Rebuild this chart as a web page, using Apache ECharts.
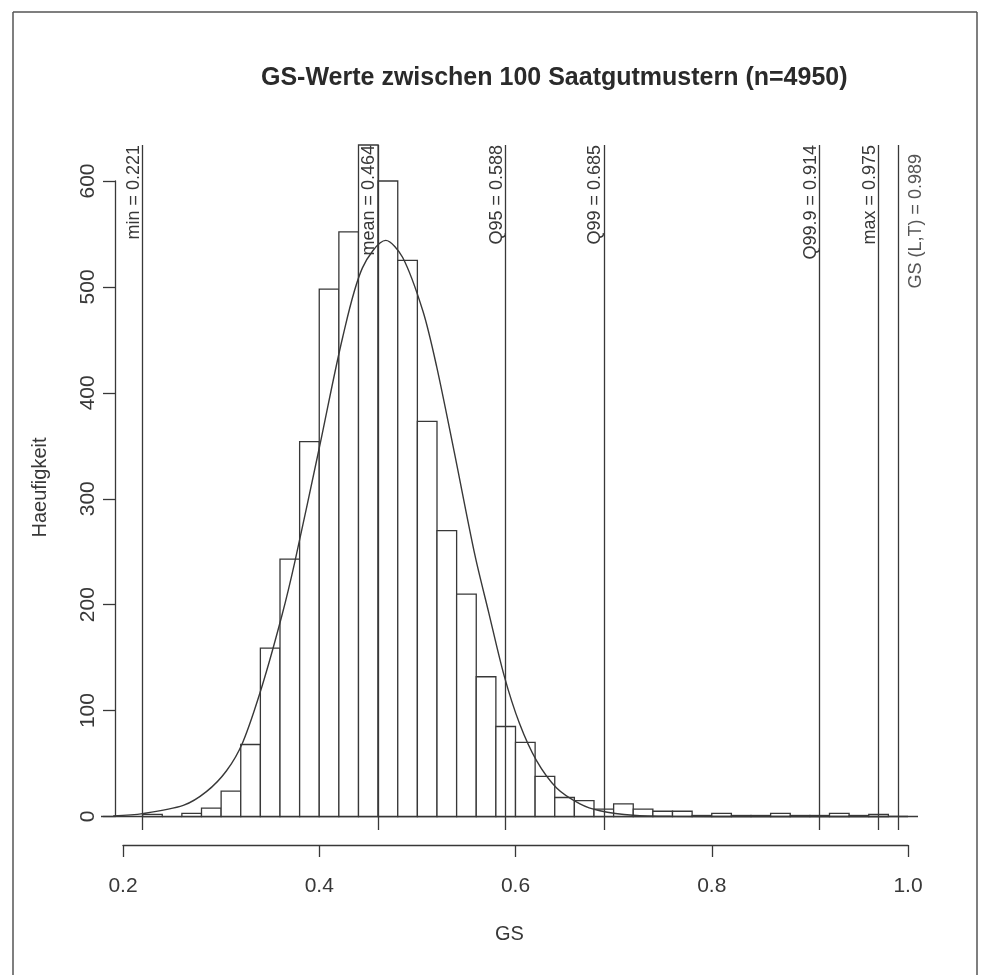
<!DOCTYPE html>
<html><head><meta charset="utf-8">
<script src="https://cdn.jsdelivr.net/npm/echarts@6/dist/echarts.min.js"></script>
<style>html,body{margin:0;padding:0;background:#fff}#c{width:983px;height:975px}</style>
</head><body><div id="c"></div>
<script>
const titleText = 'GS-Werte zwischen 100 Saatgutmustern (n=4950)';
const xName = 'GS';
const yName = 'Haeufigkeit';
const binStarts = [0.22,0.24,0.26,0.28,0.30,0.32,0.34,0.36,0.38,0.40,0.42,0.44,0.46,0.48,0.50,0.52,0.54,0.56,0.58,0.60,0.62,0.64,0.66,0.68,0.70,0.72,0.74,0.76,0.78,0.80,0.82,0.84,0.86,0.88,0.90,0.92,0.94,0.96];
const binCounts = [2,0,3,8,24,68,159,243,354,498,552,650,600,525,373,270,210,132,85,70,38,18,15,7,12,7,5,5,1,3,1,1,3,1,1,3,1,2];
const binWidth = 0.02;
const curveX = [0.19,0.22,0.2614,0.285,0.3053,0.322,0.342,0.362,0.375,0.3998,0.424,0.444,0.4678,0.4849,0.5057,0.5196,0.5374,0.5586,0.5726,0.5884,0.604,0.6213,0.6419,0.6657,0.686,0.72,0.76,0.85,1.0];
const curveY = [0.6,2.8,10.5,23.5,43,70,124,190,240,347,453,518,544,528,477,425,345,247,193,133,88,53,27,12,5.5,1.2,0.2,0,0];
const refValues = [0.221,0.464,0.588,0.685,0.914,0.975,0.989];
const refLabels = ['min = 0.221','mean = 0.464','Q95 = 0.588','Q99 = 0.685','Q99.9 = 0.914','max = 0.975','GS (L,T) = 0.989'];
const xTicks = [0.2,0.4,0.6,0.8,1.0];
const yTicks = [0,100,200,300,400,500,600];

const FONT = 'Liberation Sans, Arial, Helvetica, sans-serif';
const INK = '#383838';
const chart = echarts.init(document.getElementById('c'), null, {renderer:'canvas'});
const hidden = {show:false};

const option = {
  backgroundColor:'#fff',
  animation:false,
  title:{text:titleText, left:256, top:61,
    textStyle:{fontFamily:FONT, fontSize:25, fontWeight:'bold', color:'#2a2a2a'}},
  grid:[
    {left:101, right:65, top:145, height:685},
    {left:123, right:75, top:800, bottom:130},
    {left:115, top:181, bottom:158.5, width:700}
  ],
  xAxis:[
    {gridIndex:0, type:'value', min:0.17758, max:1.01019, name:xName, nameLocation:'middle', nameGap:94,
      nameTextStyle:{fontFamily:FONT, fontSize:20, color:INK},
      axisLine:hidden, axisTick:hidden, axisLabel:hidden, splitLine:hidden},
    {gridIndex:1, type:'value', min:xTicks[0], max:xTicks[xTicks.length-1], interval:0.2,
      axisLine:{show:true, onZero:false, lineStyle:{color:INK, width:1.3}},
      axisTick:{show:true, length:12, lineStyle:{color:INK, width:1.3}},
      axisLabel:{show:true, margin:31, fontFamily:FONT, fontSize:21, color:INK,
        formatter:v=>Number(v).toFixed(1)},
      splitLine:hidden},
    {gridIndex:2, type:'value', min:0, max:1, show:false}
  ],
  yAxis:[
    {gridIndex:0, type:'value', min:-12.7, max:634, name:yName, nameLocation:'middle', nameGap:51,
      nameTextStyle:{fontFamily:FONT, fontSize:20, color:INK},
      axisLine:hidden, axisTick:hidden, axisLabel:hidden, splitLine:hidden},
    {gridIndex:1, type:'value', min:0, max:1, show:false},
    {gridIndex:2, type:'value', min:yTicks[0], max:yTicks[yTicks.length-1], interval:100,
      axisLine:{show:true, onZero:false, lineStyle:{color:INK, width:1.3}},
      axisTick:{show:true, length:12, lineStyle:{color:INK, width:1.3}},
      axisLabel:{show:true, rotate:90, margin:16, fontFamily:FONT, fontSize:21, color:INK},
      splitLine:hidden}
  ],
  graphic:[
    {type:'line', shape:{x1:13, y1:12, x2:13, y2:975}, style:{stroke:'#555', lineWidth:1.5}},
    {type:'line', shape:{x1:13, y1:12, x2:977, y2:12}, style:{stroke:'#555', lineWidth:1.5}},
    {type:'line', shape:{x1:977, y1:12, x2:977, y2:975}, style:{stroke:'#555', lineWidth:1.5}}
  ],
  series:[
    {type:'custom', xAxisIndex:0, yAxisIndex:0, z:2,
      data: binStarts.map((s,i)=>[s, binCounts[i]]),
      renderItem:function(params, api){
        const x0 = api.value(0), c = api.value(1);
        const p0 = api.coord([x0, 0]);
        const p1 = api.coord([x0 + binWidth, c]);
        const cs = params.coordSys;
        const top = Math.max(p1[1], cs.y);
        return {type:'rect', shape:{x:p0[0], y:top, width:p1[0]-p0[0], height:p0[1]-top},
          style:{fill:'#fff', stroke:INK, lineWidth:1.3}};
      }
    },
    {type:'line', xAxisIndex:0, yAxisIndex:0, z:3, smooth:0.3, showSymbol:false, symbol:'none',
      data: curveX.map((x,i)=>[x, curveY[i]]),
      lineStyle:{color:INK, width:1.4},
      markLine:{silent:true, symbol:'none', animation:false,
        lineStyle:{type:'solid', color:INK, width:1.3},
        label:{fontFamily:FONT, fontSize:18, color:INK, distance:0},
        data: refValues.map((v,i)=>{
            const last = i===refValues.length-1;
            return {xAxis:v,
              label:{formatter:refLabels[i], position: last ? 'insideEndBottom' : 'insideEndTop',
                distance: last ? 9 : 0, color: last ? '#555' : INK}};
          })
          .concat([{yAxis:0, label:{show:false}}])
      }
    }
  ]
};
chart.setOption(option);
</script></body></html>
